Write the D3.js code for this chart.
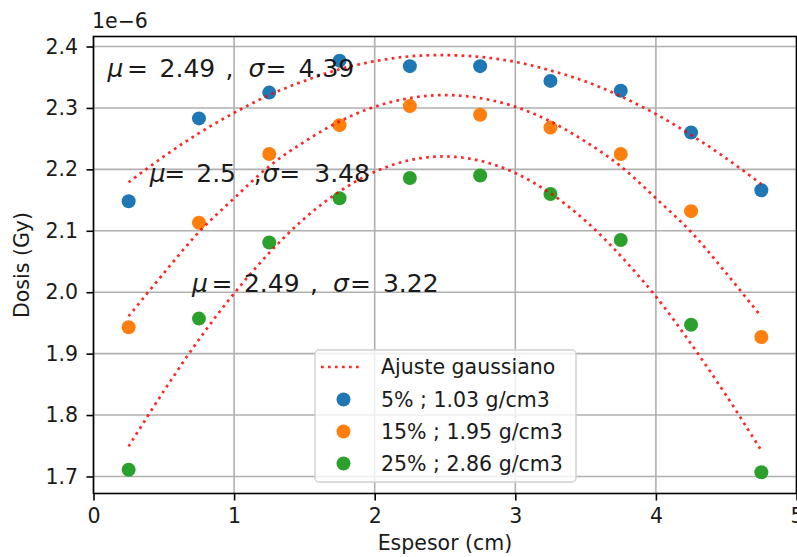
<!DOCTYPE html>
<html>
<head>
<meta charset="utf-8">
<script src="https://cdn.jsdelivr.net/npm/d3@7"></script>
<style>
    body { margin: 0; background: #fff; }
    svg { display: block; font-family: "DejaVu Sans", sans-serif; }
    text { fill: #1a1a1a; }
</style>
</head>
<body>
<svg id="svg1" width="797" height="557"></svg>
<script>
// datos medidos (Dosis en unidades de 1e-6 Gy)
const espesor = [0.25, 0.75, 1.25, 1.75, 2.25, 2.75, 3.25, 3.75, 4.25, 4.75];
const dosis5 = [2.148, 2.283, 2.325, 2.377, 2.368, 2.368, 2.344, 2.328, 2.260, 2.166];
const dosis15 = [1.943, 2.113, 2.225, 2.272, 2.303, 2.289, 2.268, 2.225, 2.132, 1.927];
const dosis25 = [1.711, 1.957, 2.081, 2.153, 2.186, 2.190, 2.160, 2.085, 1.947, 1.707];

// ajuste gaussiano
const ajusteX = [0.25, 0.5, 0.75, 1.0, 1.25, 1.5, 1.75, 2.0, 2.25, 2.5, 2.75, 3.0, 3.25, 3.5, 3.75, 4.0, 4.25, 4.5, 4.75];
const ajuste5 = [2.179, 2.221, 2.259, 2.292, 2.321, 2.344, 2.363, 2.376, 2.384, 2.386, 2.383, 2.375, 2.361, 2.343, 2.319, 2.290, 2.256, 2.218, 2.176];
const ajuste15 = [1.961, 2.031, 2.098, 2.153, 2.205, 2.245, 2.278, 2.302, 2.316, 2.321, 2.316, 2.302, 2.278, 2.245, 2.205, 2.153, 2.098, 2.031, 1.960];
const ajuste25 = [1.749, 1.839, 1.923, 1.998, 2.064, 2.120, 2.164, 2.196, 2.215, 2.221, 2.214, 2.194, 2.161, 2.116, 2.059, 1.993, 1.916, 1.832, 1.742];

const etiquetas = ["5% ; 1.03 g/cm3", "15% ; 1.95 g/cm3", "25% ; 2.86 g/cm3"];
const colores = ["#1f77b4", "#ff7f0e", "#2ca02c"];

// anotaciones mu / sigma
const anotX = [0.1, 0.4, 0.7];
const anotY = [2.35, 2.18, 2.0];
const mus = ["2.49", "2.5", "2.49"];
const sigmas = ["4.39", "3.48", "3.22"];

const xTicks = [0, 1, 2, 3, 4, 5];
const yTicks = [1.7, 1.8, 1.9, 2.0, 2.1, 2.2, 2.3, 2.4];

const svg = d3.select("#svg1");
const fs = 20.5;

const x = d3.scaleLinear().domain([0, 5]).range([93.5, 796.5]);
const y = d3.scaleLinear().domain([1.6723, 2.4163]).range([493.5, 36.5]);

// grid
const grid = svg.append("g");
grid.selectAll("line.gx")
    .data(xTicks)
    .enter()
    .append("line")
    .attr("x1", (d) => x(d)).attr("x2", (d) => x(d))
    .attr("y1", y.range()[1]).attr("y2", y.range()[0])
    .attr("stroke", "#b0b0b0").attr("stroke-width", 1.6);
grid.selectAll("line.gy")
    .data(yTicks)
    .enter()
    .append("line")
    .attr("y1", (d) => y(d)).attr("y2", (d) => y(d))
    .attr("x1", x.range()[0]).attr("x2", x.range()[1])
    .attr("stroke", "#b0b0b0").attr("stroke-width", 1.6);

// scatter
const series = [dosis5, dosis15, dosis25];
series.forEach((serie, i) => {
    svg.append("g")
        .selectAll("circle")
        .data(serie)
        .enter()
        .append("circle")
        .attr("cx", (d, j) => x(espesor[j]))
        .attr("cy", (d) => y(d))
        .attr("r", 7)
        .attr("fill", colores[i]);
});

// curvas de ajuste
const line = d3.line()
    .x((d, j) => x(ajusteX[j]))
    .y((d) => y(d))
    .curve(d3.curveCatmullRom);
[ajuste5, ajuste15, ajuste25].forEach((a) => {
    svg.append("path")
        .attr("d", line(a))
        .attr("fill", "none")
        .attr("stroke", "red")
        .attr("stroke-opacity", 0.85)
        .attr("stroke-width", 2.7)
        .attr("stroke-dasharray", "2.7,4.3");
});

// anotaciones (offsets horizontales de cada trozo, en px)
const largo = [19.5, 52, 118, 141, 158, 191];
const corto = [14.5, 46.5, 104, 113, 129.5, 164.5];
anotX.forEach((ax, i) => {
    const x0 = x(ax);
    const o = mus[i].length == 4 ? largo : corto;
    const t = svg.append("text")
        .attr("x", x0)
        .attr("y", y(anotY[i]))
        .attr("font-size", 25);
    t.append("tspan").attr("font-style", "italic").text("μ");
    t.append("tspan").attr("x", x0 + o[0]).text("=");
    t.append("tspan").attr("x", x0 + o[1]).text(mus[i]);
    t.append("tspan").attr("x", x0 + o[2]).text(",");
    t.append("tspan").attr("x", x0 + o[3]).attr("font-style", "italic").text("σ");
    t.append("tspan").attr("x", x0 + o[4]).text("=");
    t.append("tspan").attr("x", x0 + o[5]).text(sigmas[i]);
});

// ejes
const xAxis = svg.append("g")
    .attr("transform", "translate(0," + y.range()[0] + ")")
    .call(d3.axisBottom(x).tickValues(xTicks).tickFormat(d3.format("d")).tickSize(7).tickPadding(8));
const yAxis = svg.append("g")
    .attr("transform", "translate(" + x.range()[0] + ",0)")
    .call(d3.axisLeft(y).tickValues(yTicks).tickFormat(d3.format(".1f")).tickSize(7).tickPadding(8.5));
[xAxis, yAxis].forEach((ax) => {
    ax.select(".domain").remove();
    ax.selectAll("line").attr("stroke", "#000").attr("stroke-width", 1.6);
    ax.selectAll("text").attr("font-size", fs).attr("font-family", "DejaVu Sans").attr("fill", "#1a1a1a");
});

// marco
svg.append("rect")
    .attr("x", x.range()[0]).attr("y", y.range()[1])
    .attr("width", x.range()[1] - x.range()[0])
    .attr("height", y.range()[0] - y.range()[1])
    .attr("fill", "none").attr("stroke", "#000").attr("stroke-width", 1.6);

svg.append("text")
    .attr("x", 92).attr("y", 28)
    .attr("font-size", fs)
    .text("1e\u22126");

svg.append("text")
    .attr("x", 445).attr("y", 550)
    .attr("text-anchor", "middle")
    .attr("font-size", fs)
    .text("Espesor (cm)");

svg.append("text")
    .attr("transform", "translate(29,265) rotate(-90)")
    .attr("text-anchor", "middle")
    .attr("font-size", fs)
    .text("Dosis (Gy)");

// leyenda
const leg = svg.append("g");
leg.append("rect")
    .attr("x", 315).attr("y", 350).attr("width", 261).attr("height", 132)
    .attr("rx", 4)
    .attr("fill", "#fff").attr("fill-opacity", 0.8)
    .attr("stroke", "#d0d0d0").attr("stroke-width", 1.4);
leg.append("line")
    .attr("x1", 321).attr("x2", 362).attr("y1", 367).attr("y2", 367)
    .attr("stroke", "red").attr("stroke-opacity", 0.85)
    .attr("stroke-width", 2.7).attr("stroke-dasharray", "2.7,4.3");
leg.append("text")
    .attr("x", 381).attr("y", 367).attr("dy", "0.35em")
    .attr("font-size", fs)
    .text("Ajuste gaussiano");
etiquetas.forEach((e, i) => {
    const cy = 399.5 + i * 32;
    leg.append("circle").attr("cx", 343.5).attr("cy", cy).attr("r", 7).attr("fill", colores[i]);
    leg.append("text")
        .attr("x", 381).attr("y", cy).attr("dy", "0.35em")
        .attr("font-size", fs)
        .text(e);
});
</script>
</body>
</html>
